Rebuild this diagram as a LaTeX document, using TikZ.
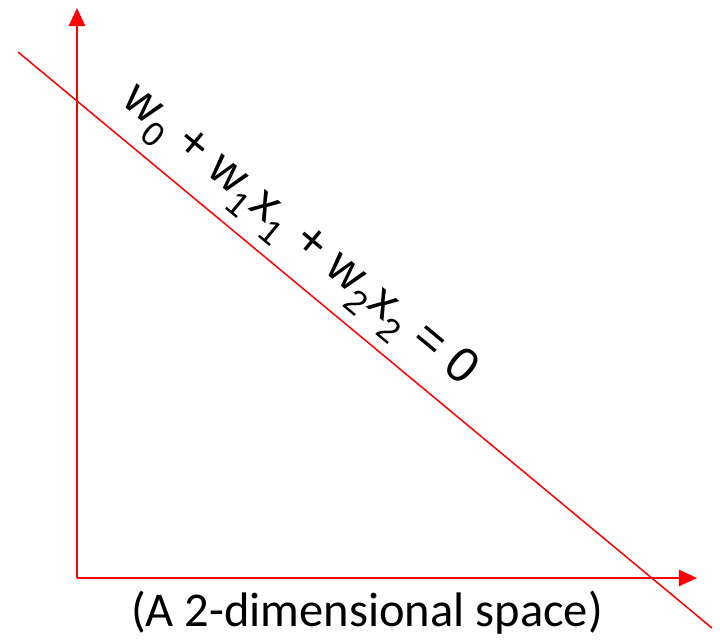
\documentclass[tikz,border=0pt]{standalone}
\usepackage{fontspec}
\setmainfont{Carlito}
\newfontfamily\eqfont{Liberation Sans}
\usetikzlibrary{arrows.meta}
\newcommand{\sub}[1]{\raisebox{-0.3em}{\fontsize{34}{34}\selectfont #1}}

\begin{document}
\begin{tikzpicture}[x=1pt,y=-1pt,>={Triangle[length=18pt,width=16pt]},axis/.style={draw=red,line width=2.6pt},boundary/.style={draw=red,line width=1.5pt},eqlabel/.style={font=\eqfont\fontsize{49}{54}\selectfont,rotate=-39.7,inner sep=0pt}]
\useasboundingbox (0,0) rectangle (720,640);
\coordinate (O) at (77,578);
\coordinate (ytip) at (77,8);
\coordinate (xtip) at (697,578);
\coordinate (b1) at (18,52);
\coordinate (b2) at (712,628);
\draw[axis,->] (O)--(ytip);
\draw[axis,->] (O)--(xtip);
\draw[boundary] (b1)--(b2);
\node[eqlabel] (eq) at (298,238) {w\sub{0} + w\sub{1}x\sub{1} + w\sub{2}x\sub{2} = 0};
\node[font=\fontsize{48.5}{54}\selectfont,inner sep=0pt] (cap) at (367,613) {(A 2-dimensional space)};
\end{tikzpicture}
\end{document}
